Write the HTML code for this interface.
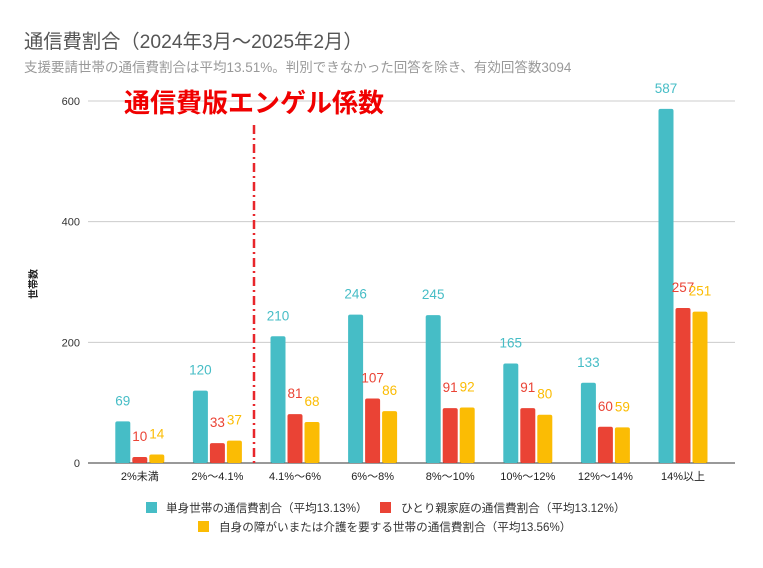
<!DOCTYPE html>
<html><head><meta charset="utf-8">
<style>
body{margin:0;background:#fff;width:763px;height:563px;overflow:hidden;font-family:"Liberation Sans","Noto Sans CJK JP",sans-serif;}
</style></head>
<body>
<svg width="763" height="563" xmlns="http://www.w3.org/2000/svg" style="font-family:'Liberation Sans','Noto Sans CJK JP',sans-serif">
<text x="24" y="48" font-size="19.3" fill="#555">通信費割合（2024年3月～2025年2月）</text>
<text x="24" y="72" font-size="13.5" fill="#999">支援要請世帯の通信費割合は平均13.51%。判別できなかった回答を除き、有効回答数3094</text>
<g id="grid"></g>
<g id="bars"></g>
<line x1="254" y1="125" x2="254" y2="463" stroke="#e8262b" stroke-width="2.5" stroke-dasharray="9,4,2,4"/>
<text x="124" y="112" font-size="26" font-weight="bold" fill="#f00000">通信費版エンゲル係数</text>
<text transform="translate(37,284) rotate(-90)" text-anchor="middle" font-size="10" font-weight="bold" fill="#222">世帯数</text>
<g font-size="11.6" fill="#333">
<rect x="146" y="502" width="11" height="11" fill="#46bdc6"/>
<text x="166" y="512">単身世帯の通信費割合（平均13.13%）</text>
<rect x="380" y="502" width="11" height="11" fill="#ea4335"/>
<text x="401" y="512">ひとり親家庭の通信費割合（平均13.12%）</text>
<rect x="198" y="521" width="11" height="11" fill="#fbbc04"/>
<text x="219" y="531">自身の障がいまたは介護を要する世帯の通信費割合（平均13.56%）</text>
</g>
</svg>
<script>
const categories=["2%未満","2%～4.1%","4.1%～6%","6%～8%","8%～10%","10%～12%","12%～14%","14%以上"];
const singleValues=[69,120,210,246,245,165,133,587];
const singleParentValues=[10,33,81,107,91,91,60,257];
const disabilityValues=[14,37,68,86,92,80,59,251];
const yTicks=[0,200,400,600];
const NS="http://www.w3.org/2000/svg";
const y0=463,yTop=101,vMax=600;
const yScale=v=>y0-(v/vMax)*(y0-yTop);
const left=101,step=77.6;
const xCenter=i=>left+step*(i+0.5);
const grid=document.getElementById('grid'),bars=document.getElementById('bars');
function mk(tag,attrs,parent){const e=document.createElementNS(NS,tag);for(const k in attrs)e.setAttribute(k,attrs[k]);parent.appendChild(e);return e;}
yTicks.forEach(t=>{
  const l=mk('line',{x1:88,x2:735,y1:yScale(t),y2:yScale(t),stroke:t===0?'#333':'#ccc','stroke-width':1},grid);
  
  
  const tx=mk('text',{x:80,y:yScale(t)+4,'text-anchor':'end','font-size':11,fill:'#333'},grid);
  tx.textContent=t;
  
  
});
const series=[[singleValues,'#46bdc6','single'],[singleParentValues,'#ea4335','single-parent'],[disabilityValues,'#fbbc04','disability']];
const bw=15,gap=2;
categories.forEach((c,i)=>{
  const cx=xCenter(i);
  const lab=mk('text',{x:cx,y:480,'text-anchor':'middle','font-size':11,fill:'#222'},grid);
  lab.textContent=c;
  
  
  series.forEach((s,j)=>{
    const v=s[0][i];
    const x=cx-bw*1.5-gap+j*(bw+gap);
    const r=mk('rect',{x:x,y:yScale(v),width:bw,height:y0-yScale(v),fill:s[1],rx:2},bars);
    
    
    const t=mk('text',{x:x+bw/2,y:yScale(v)-16,'text-anchor':'middle','font-size':13.5,fill:s[1]},bars);
    t.textContent=v;
    
    
  });
});
</script>
</body></html>
